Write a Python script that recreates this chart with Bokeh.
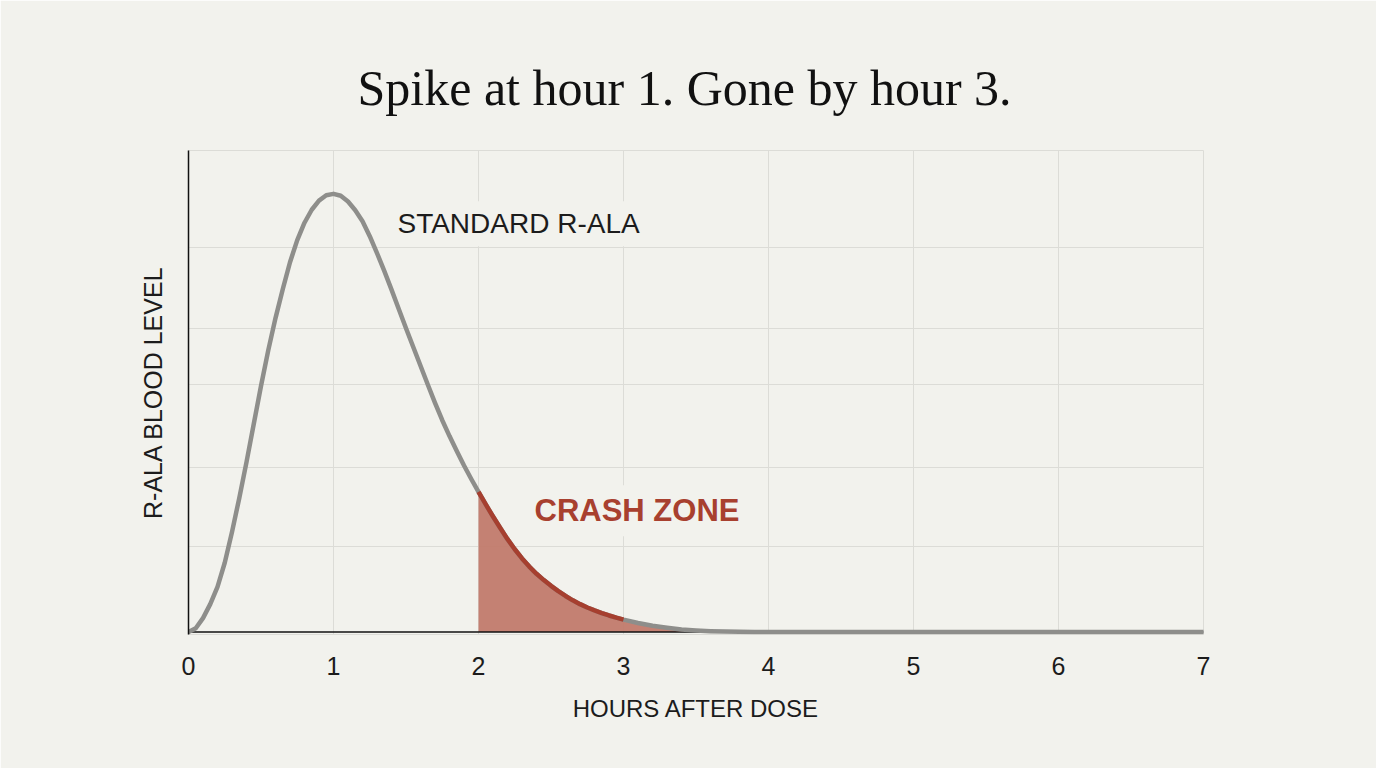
from bokeh.plotting import figure
from bokeh.models import Range1d, FixedTicker, Label
from bokeh.embed import file_html
from bokeh.resources import INLINE

# ---- data ----
hours = [0.00, 0.05, 0.10, 0.15, 0.20, 0.25, 0.30, 0.35, 0.40, 0.45,
         0.50, 0.55, 0.60, 0.65, 0.70, 0.75, 0.80, 0.85, 0.90, 0.95,
         1.00, 1.05, 1.10, 1.15, 1.20, 1.25, 1.30, 1.35, 1.40, 1.45,
         1.50, 1.55, 1.60, 1.65, 1.70, 1.75, 1.80, 1.85, 1.90, 1.95,
         2.00, 2.05, 2.10, 2.15, 2.20, 2.25, 2.30, 2.35, 2.40, 2.45,
         2.50, 2.55, 2.60, 2.65, 2.70, 2.75, 2.80, 2.85, 2.90, 2.95,
         3.00, 3.10, 3.20, 3.30, 3.40, 3.50, 3.60, 3.70, 3.80, 3.90,
         4.00, 4.50, 5.00, 5.50, 6.00, 6.50, 7.00]
level = [0.0, 0.8, 2.9, 5.8, 9.4, 14.4, 20.8, 27.8, 35.3, 43.2,
         51.1, 58.5, 65.2, 71.2, 76.8, 81.4, 85.0, 87.7, 89.6, 90.7,
         91.0, 90.6, 89.4, 87.6, 85.3, 82.2, 78.7, 75.0, 71.1, 67.1,
         63.1, 59.2, 55.3, 51.4, 47.6, 44.0, 40.7, 37.6, 34.6, 31.8,
         29.1, 26.5, 24.0, 21.6, 19.3, 17.2, 15.3, 13.6, 12.1, 10.8,
         9.6, 8.5, 7.5, 6.6, 5.8, 5.1, 4.5, 3.95, 3.45, 3.0,
         2.6, 1.9, 1.3, 0.9, 0.55, 0.35, 0.2, 0.1, 0.05, 0.03,
         0.02, 0.0, 0.0, 0.0, 0.0, 0.0, 0.0]
x_ticks = [0, 1, 2, 3, 4, 5, 6, 7]
grid_levels = [17.7, 34.1, 51.4, 63.1, 79.9, 100]
zone_start = 2.0
zone_line_end = 3.0

title_text = "Spike at hour 1. Gone by hour 3."
x_label = "HOURS AFTER DOSE"
y_label = "R-ALA BLOOD LEVEL"
curve_label = "STANDARD R-ALA"
zone_label = "CRASH ZONE"

BG = "#f2f2ed"
GRID = "#dcdcd7"
GREY = "#8e8e8b"
RED_LINE = "#a63f2f"
RED_FILL = "#c07768"
TEXT = "#1c1c1c"
SANS = "Liberation Sans"

p = figure(width=1376, height=768, output_backend="svg", toolbar_location=None,
           x_range=Range1d(0, 7), y_range=Range1d(-0.5, 100),
           min_border_left=188, min_border_right=173,
           min_border_top=150, min_border_bottom=134,
           background_fill_color=BG, border_fill_color=BG)

p.title.text = title_text
p.title.align = "left"
p.title.offset = 169
p.title.text_font = "Liberation Serif"
p.title.text_font_size = "50px"
p.title.text_font_style = "normal"
p.title.text_color = "#111111"
p.title.standoff = 70

p.outline_line_color = GRID

# x axis
p.xaxis.ticker = FixedTicker(ticks=x_ticks)
p.xaxis.major_tick_line_color = None
p.xaxis.minor_tick_line_color = None
p.xaxis.axis_line_color = None
p.xaxis.major_label_text_font = SANS
p.xaxis.major_label_text_font_size = "25px"
p.xaxis.major_label_text_color = TEXT
p.xaxis.major_label_standoff = 16
p.xaxis.axis_label = x_label
p.xaxis.axis_label_text_font = SANS
p.xaxis.axis_label_text_font_size = "24px"
p.xaxis.axis_label_text_font_style = "normal"
p.xaxis.axis_label_text_color = TEXT
p.xaxis.axis_label_standoff = 17

# y axis (no tick labels; grid has its own ticker)
p.yaxis.ticker = FixedTicker(ticks=[])
p.yaxis.major_tick_line_color = None
p.yaxis.minor_tick_line_color = None
p.yaxis.axis_line_color = "#111111"
p.yaxis.axis_line_width = 1.5
p.yaxis.axis_label = y_label
p.yaxis.axis_label_text_font = SANS
p.yaxis.axis_label_text_font_size = "25px"
p.yaxis.axis_label_text_font_style = "normal"
p.yaxis.axis_label_text_color = TEXT
p.yaxis.axis_label_standoff = 22

p.xgrid.ticker = FixedTicker(ticks=x_ticks)
p.ygrid.ticker = FixedTicker(ticks=grid_levels)
p.xgrid.grid_line_color = GRID
p.ygrid.grid_line_color = GRID
p.xgrid.grid_line_width = 1
p.ygrid.grid_line_width = 1

# crash zone fill
zx = [h for h in hours if h >= zone_start]
zy = [v for h, v in zip(hours, level) if h >= zone_start]
p.varea(x=zx, y1=[0] * len(zx), y2=zy, fill_color=RED_FILL, fill_alpha=0.92)

# baseline
p.line(x=[x_ticks[0], x_ticks[-1]], y=[0, 0], line_color="#111111", line_width=1.5)

# main curve
p.line(x=hours, y=level, line_color=GREY, line_width=4.5, line_cap="round", line_join="round")

# red segment of the curve inside crash zone
rx = [h for h in hours if zone_start <= h <= zone_line_end]
ry = [v for h, v in zip(hours, level) if zone_start <= h <= zone_line_end]
p.line(x=rx, y=ry, line_color=RED_LINE, line_width=4.5, line_join="round")

p.add_layout(Label(x=1.393, y=84.8, text=curve_label, text_font=SANS,
                   text_font_size="28px", text_color=TEXT, text_baseline="middle",
                   background_fill_color=BG, padding=7))
p.add_layout(Label(x=2.331, y=25.2, text=zone_label, text_font=SANS,
                   text_font_size="31px", text_font_style="bold", text_color="#a8402f",
                   text_baseline="middle", background_fill_color=BG, padding=8))

open("out.html", "w").write(file_html(p, INLINE))
